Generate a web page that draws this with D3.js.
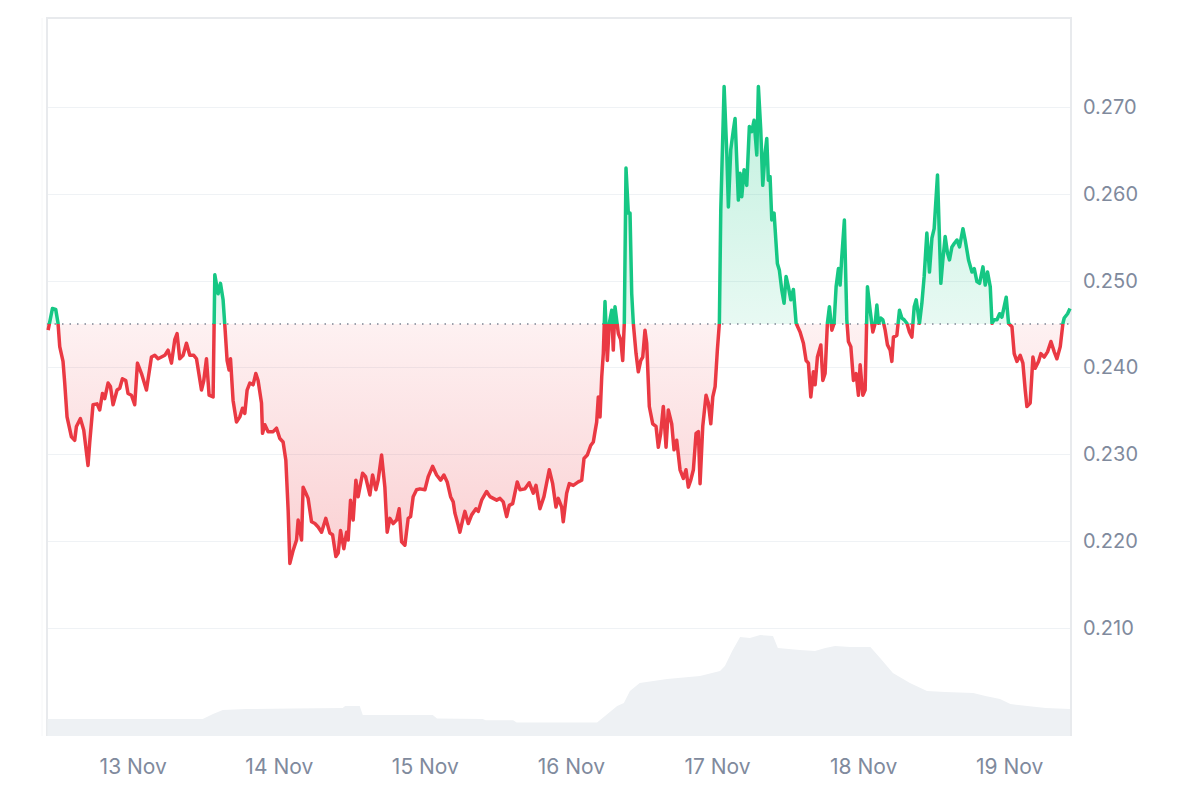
<!DOCTYPE html>
<html>
<head>
<meta charset="utf-8">
<script src="https://cdn.jsdelivr.net/npm/d3@7/dist/d3.min.js"></script>
<style>
    body { margin: 0; background: #fff; }
    .chart { width: 1200px; height: 800px; }
    .chart text { font-family: Inter, "Liberation Sans", Arial, sans-serif; fill: #808a9d; }
</style>
</head>
<body>
<div class="chart"></div>
<script>
// 7 days, hours counted from 12 Nov 10:00 UTC
const startTime = Date.UTC(2024, 10, 12, 10, 0)
const basePrice = 0.245

const hours = [
    0.1, 0.81, 1.35, 1.73, 2.01, 2.55, 2.83, 3.21, 3.93, 4.47,
    4.75, 5.41, 5.95, 6.66, 6.94, 7.48, 8.14, 8.58, 9.03, 9.40,
    9.95, 10.34, 10.77, 11.43, 11.87, 12.31, 12.86, 13.23, 13.79, 14.33,
    14.78, 15.44, 16.26, 17.08, 17.62, 18.17, 18.72, 19.27, 19.81, 20.37,
    20.91, 21.29, 21.73, 22.28, 22.83, 23.38, 24.03, 24.48, 25.30, 25.68,
    26.12, 26.55, 27.21, 27.49, 28.03, 28.42, 28.85, 29.13, 29.51, 29.84,
    30.07, 30.49, 31.05, 31.60, 32.04, 32.42, 32.80, 33.24, 33.78, 34.23,
    34.60, 35.16, 35.33, 35.71, 36.25, 37.07, 37.63, 38.17, 38.71, 39.16,
    39.54, 39.82, 40.36, 40.92, 41.18, 41.74, 42.00, 42.45, 42.82, 43.38,
    43.93, 44.47, 45.03, 45.73, 46.39, 46.84, 47.38, 47.76, 48.15, 48.69,
    49.14, 49.40, 49.79, 50.22, 50.67, 51.04, 51.77, 52.26, 52.97, 53.41,
    53.95, 54.33, 54.89, 55.43, 55.81, 56.26, 56.80, 57.36, 57.78, 58.18,
    58.72, 59.26, 59.66, 60.08, 60.64, 61.19, 62.01, 62.55, 63.27, 63.93,
    64.59, 65.13, 65.67, 66.23, 66.66, 66.94, 67.48, 67.76, 68.21, 68.58,
    69.13, 69.69, 70.39, 70.77, 71.33, 72.15, 72.70, 73.24, 73.80, 74.34,
    74.88, 75.44, 75.87, 76.43, 77.18, 77.63, 78.45, 79.15, 79.81, 80.26,
    80.91, 81.57, 82.44, 83.00, 83.54, 83.92, 84.48, 84.74, 85.30, 85.73,
    86.39, 87.21, 87.77, 88.15, 88.69, 89.25, 89.68, 89.96, 90.23, 90.50,
    90.78, 91.06, 91.32, 91.60, 91.98, 92.31, 92.70, 92.96, 93.24, 93.79,
    94.18, 94.51, 94.77, 95.05, 95.43, 95.71, 95.99, 96.25, 96.70, 97.07,
    97.47, 97.80, 98.17, 98.45, 98.88, 99.44, 99.98, 100.36, 100.75, 101.18,
    101.63, 102.00, 102.56, 102.94, 103.38, 103.93, 104.47, 104.91, 105.29, 105.69,
    106.12, 106.56, 106.94, 107.22, 107.66, 108.20, 108.58, 108.98, 109.31, 109.69,
    110.06, 110.39, 110.62, 111.17, 111.61, 111.87, 112.26, 112.69, 112.97, 113.51,
    113.79, 114.07, 114.45, 114.89, 115.32, 115.71, 116.09, 116.54, 116.80, 117.19,
    117.52, 117.90, 118.18, 118.44, 118.72, 119.00, 119.38, 119.92, 120.25, 120.65,
    121.02, 121.35, 121.73, 122.13, 122.55, 123.00, 123.65, 124.20, 124.64, 125.02,
    125.41, 125.84, 126.12, 126.50, 127.06, 127.39, 127.76, 128.14, 128.47, 128.87,
    129.24, 129.57, 129.95, 130.23, 130.51, 130.93, 131.33, 131.59, 131.99, 132.42,
    132.86, 133.24, 133.52, 133.96, 134.34, 134.72, 135.16, 135.61, 135.99, 136.27,
    136.53, 136.92, 137.25, 137.63, 138.01, 138.45, 138.73, 138.99, 139.55, 139.98,
    140.37, 140.75, 141.20, 141.62, 142.02, 142.40, 142.73, 143.27, 143.66, 144.04,
    144.48, 144.91, 145.31, 145.68, 146.23, 146.78, 147.11, 147.49, 147.87, 148.20,
    148.60, 148.98, 149.42, 149.85, 150.41, 150.78, 151.33, 151.89, 152.27, 152.71,
    153.14, 153.70, 154.07, 154.45, 154.90, 155.18, 155.56, 156.00, 156.43, 156.81,
    157.52, 157.90, 158.46, 158.83, 159.28, 159.82, 160.26, 160.64, 160.92, 161.46,
    161.91, 162.28, 162.83, 163.22, 163.76, 164.31, 164.87, 165.41, 165.85, 166.40,
    166.84, 167.05, 167.60, 168.00
]

const prices = [
    0.2443, 0.2468, 0.2467, 0.2451, 0.2424, 0.2407, 0.2382, 0.2343, 0.2320, 0.2316,
    0.2332, 0.2341, 0.2328, 0.2287, 0.2314, 0.2357, 0.2358, 0.2351, 0.2370, 0.2364,
    0.2382, 0.2378, 0.2357, 0.2374, 0.2376, 0.2387, 0.2385, 0.2370, 0.2368, 0.2357,
    0.2405, 0.2393, 0.2374, 0.2412, 0.2414, 0.2410, 0.2412, 0.2414, 0.2420, 0.2405,
    0.2432, 0.2439, 0.2410, 0.2414, 0.2428, 0.2414, 0.2414, 0.2410, 0.2374, 0.2385,
    0.2410, 0.2368, 0.2366, 0.2507, 0.2485, 0.2497, 0.2478, 0.2449, 0.2408, 0.2397,
    0.2410, 0.2362, 0.2337, 0.2343, 0.2353, 0.2347, 0.2374, 0.2382, 0.2380, 0.2393,
    0.2385, 0.2359, 0.2324, 0.2334, 0.2326, 0.2326, 0.2330, 0.2318, 0.2314, 0.2293,
    0.2235, 0.2174, 0.2189, 0.2201, 0.2224, 0.2201, 0.2262, 0.2255, 0.2249, 0.2222,
    0.2220, 0.2216, 0.2210, 0.2226, 0.2209, 0.2207, 0.2182, 0.2186, 0.2212, 0.2191,
    0.2210, 0.2201, 0.2247, 0.2224, 0.2270, 0.2251, 0.2278, 0.2274, 0.2253, 0.2276,
    0.2259, 0.2270, 0.2299, 0.2262, 0.2210, 0.2226, 0.2220, 0.2224, 0.2237, 0.2199,
    0.2195, 0.2226, 0.2228, 0.2251, 0.2259, 0.2260, 0.2259, 0.2274, 0.2286, 0.2276,
    0.2270, 0.2276, 0.2268, 0.2251, 0.2245, 0.2232, 0.2218, 0.2210, 0.2224, 0.2234,
    0.2220, 0.2230, 0.2237, 0.2234, 0.2247, 0.2257, 0.2251, 0.2249, 0.2247, 0.2249,
    0.2245, 0.2228, 0.2241, 0.2243, 0.2268, 0.2259, 0.2260, 0.2267, 0.2255, 0.2264,
    0.2237, 0.2251, 0.2282, 0.2266, 0.2239, 0.2249, 0.2239, 0.2222, 0.2255, 0.2266,
    0.2264, 0.2268, 0.2270, 0.2295, 0.2299, 0.2310, 0.2314, 0.2326, 0.2337, 0.2366,
    0.2343, 0.2389, 0.2416, 0.2476, 0.2408, 0.2451, 0.2466, 0.2420, 0.2470, 0.2439,
    0.2432, 0.2408, 0.2451, 0.2630, 0.2578, 0.2578, 0.2485, 0.2451, 0.2416, 0.2395,
    0.2408, 0.2412, 0.2443, 0.2428, 0.2355, 0.2335, 0.2332, 0.2308, 0.2324, 0.2355,
    0.2308, 0.2351, 0.2335, 0.2305, 0.2316, 0.2282, 0.2272, 0.2282, 0.2262, 0.2270,
    0.2282, 0.2324, 0.2326, 0.2266, 0.2332, 0.2368, 0.2359, 0.2335, 0.2366, 0.2378,
    0.2420, 0.2451, 0.2581, 0.2724, 0.2647, 0.2585, 0.2651, 0.2674, 0.2687, 0.2593,
    0.2624, 0.2597, 0.2628, 0.2610, 0.2678, 0.2672, 0.2685, 0.2645, 0.2724, 0.2674,
    0.2610, 0.2647, 0.2664, 0.2616, 0.2620, 0.2570, 0.2578, 0.2520, 0.2512, 0.2489,
    0.2474, 0.2505, 0.2493, 0.2478, 0.2490, 0.2451, 0.2441, 0.2428, 0.2408, 0.2405,
    0.2366, 0.2395, 0.2380, 0.2412, 0.2426, 0.2385, 0.2393, 0.2451, 0.2470, 0.2443,
    0.2451, 0.2493, 0.2514, 0.2495, 0.2528, 0.2570, 0.2455, 0.2430, 0.2424, 0.2385,
    0.2393, 0.2368, 0.2403, 0.2368, 0.2374, 0.2493, 0.2466, 0.2441, 0.2451, 0.2472,
    0.2451, 0.2457, 0.2455, 0.2443, 0.2426, 0.2420, 0.2407, 0.2435, 0.2437, 0.2466,
    0.2457, 0.2455, 0.2451, 0.2441, 0.2435, 0.2470, 0.2478, 0.2451, 0.2474, 0.2505,
    0.2555, 0.2510, 0.2549, 0.2560, 0.2622, 0.2497, 0.2524, 0.2551, 0.2532, 0.2524,
    0.2539, 0.2543, 0.2547, 0.2539, 0.2560, 0.2547, 0.2524, 0.2510, 0.2514, 0.2499,
    0.2497, 0.2516, 0.2495, 0.2510, 0.2493, 0.2451, 0.2455, 0.2455, 0.2462, 0.2458,
    0.2481, 0.2451, 0.2447, 0.2416, 0.2407, 0.2414, 0.2405, 0.2374, 0.2355, 0.2359,
    0.2412, 0.2399, 0.2407, 0.2416, 0.2412, 0.2418, 0.2430, 0.2418, 0.2410, 0.2424,
    0.2451, 0.2457, 0.2462, 0.2468
]

// volume (millions), rough step outline of the grey band
const volHours = [
    0, 25.5, 27.2, 28.8, 32.7, 40.3, 48.5, 48.9, 51.3, 51.8,
    63.3, 64.0, 71.5, 72.0, 76.5, 77.1, 90.3, 91.6, 93.6, 94.7,
    95.7, 97.3, 101.8, 107.2, 110.5, 111.3, 112.5, 113.8, 115.4, 117.1,
    119.2, 120.0, 123.6, 126.1, 127.8, 129.4, 131.9, 135.2, 136.8, 138.9,
    141.7, 144.5, 147.5, 152.1, 154.1, 156.5, 158.2, 161.0, 164.0, 168.0
]
const volumes = [
    17, 17, 22, 26, 27, 27.5, 28, 30, 30, 21,
    21, 17.5, 17, 15.7, 15.7, 13.5, 13.5, 20, 30, 33,
    45, 53, 57, 60, 65, 70, 85, 99, 98, 101,
    100, 88, 86, 85, 88, 90, 89, 89, 78, 63,
    53, 45, 44, 43, 40, 37, 32, 30, 28, 27
]

const yTicks = [0.21, 0.22, 0.23, 0.24, 0.25, 0.26, 0.27]
const dayTicks = ["2024-11-13", "2024-11-14", "2024-11-15", "2024-11-16", "2024-11-17", "2024-11-18", "2024-11-19"]
const dayLabels = ["13 Nov", "14 Nov", "15 Nov", "16 Nov", "17 Nov", "18 Nov", "19 Nov"]

const upColor = "#16c784"
const downColor = "#ea3943"

class PriceChart {
    constructor(_element) {
        this.element = _element
        this.width = 1200
        this.height = 800
        this.left = 47
        this.right = 1071
        this.top = 18
        this.bottom = 736

        this.data = hours.map((_h, _i) => ({ t: new Date(startTime + _h * 3600e3), v: prices[_i] }))
        this.vol = volHours.map((_h, _i) => ({ t: new Date(startTime + _h * 3600e3), v: volumes[_i] }))

        this.x = d3.scaleUtc()
            .domain([new Date(startTime), new Date(startTime + 168 * 3600e3)])
            .range([this.left + 0.5, this.right - 1])
        this.y = d3.scaleLinear()
            .domain([0.1975, 0.2803])
            .range([this.bottom, this.top])
        this.yVol = d3.scaleLinear()
            .domain([0, 100])
            .range([this.bottom, this.bottom - 100])

        this.svg = d3.select(this.element).append("svg")
            .attr("width", this.width)
            .attr("height", this.height)

        this.defs = this.svg.append("defs")
        this.drawFrame()
        this.drawVolume()
        this.drawPrice()
        this.drawAxes()
    }

    drawFrame() {
        this.svg.append("g")
            .selectAll("line")
            .data(yTicks)
            .enter()
            .append("line")
            .attr("x1", this.left)
            .attr("x2", this.right)
            .attr("y1", d => Math.round(this.y(d)) + 0.5)
            .attr("y2", d => Math.round(this.y(d)) + 0.5)
            .attr("stroke", "#eff2f5")

        // light border round the plot
        this.svg.append("path")
            .attr("d", `M${this.left},${this.bottom}V${this.top}H${this.right}V${this.bottom}`)
            .attr("fill", "none")
            .attr("stroke", "#e8eaed")
            .attr("stroke-width", 2)
        this.svg.append("line")
            .attr("x1", this.left - 5).attr("x2", this.left - 5)
            .attr("y1", this.top).attr("y2", this.bottom)
            .attr("stroke", "#f6f7f8")
    }

    drawVolume() {
        const area = d3.area()
            .x(d => this.x(d.t))
            .y0(this.bottom)
            .y1(d => this.yVol(d.v))
        this.svg.append("path")
            .datum(this.vol)
            .attr("d", area)
            .attr("fill", "#eef1f4")
    }

    drawPrice() {
        const baseY = this.y(basePrice)

        this.defs.append("clipPath").attr("id", "clip-up")
            .append("rect")
            .attr("x", 0).attr("y", 0)
            .attr("width", this.width).attr("height", baseY)
        this.defs.append("clipPath").attr("id", "clip-down")
            .append("rect")
            .attr("x", 0).attr("y", baseY)
            .attr("width", this.width).attr("height", this.height - baseY)

        const gUp = this.defs.append("linearGradient").attr("id", "grad-up")
            .attr("gradientUnits", "userSpaceOnUse")
            .attr("x1", 0).attr("x2", 0)
            .attr("y1", this.y(d3.max(prices))).attr("y2", baseY)
        gUp.append("stop").attr("offset", 0).attr("stop-color", upColor).attr("stop-opacity", 0.27)
        gUp.append("stop").attr("offset", 1).attr("stop-color", upColor).attr("stop-opacity", 0.1)

        const gDown = this.defs.append("linearGradient").attr("id", "grad-down")
            .attr("gradientUnits", "userSpaceOnUse")
            .attr("x1", 0).attr("x2", 0)
            .attr("y1", baseY).attr("y2", this.y(d3.min(prices)))
        gDown.append("stop").attr("offset", 0).attr("stop-color", downColor).attr("stop-opacity", 0.07)
        gDown.append("stop").attr("offset", 1).attr("stop-color", downColor).attr("stop-opacity", 0.24)

        const area = d3.area()
            .x(d => this.x(d.t))
            .y0(baseY)
            .y1(d => this.y(d.v))
        const line = d3.line()
            .x(d => this.x(d.t))
            .y(d => this.y(d.v))

        this.svg.append("path").datum(this.data)
            .attr("d", area).attr("fill", "url(#grad-up)").attr("clip-path", "url(#clip-up)")
        this.svg.append("path").datum(this.data)
            .attr("d", area).attr("fill", "url(#grad-down)").attr("clip-path", "url(#clip-down)")

        // dotted reference line at the opening price
        this.svg.append("line")
            .attr("x1", this.left).attr("x2", this.right)
            .attr("y1", baseY).attr("y2", baseY)
            .attr("stroke", "#7d8594")
            .attr("stroke-width", 1.5)
            .attr("stroke-dasharray", "1.5,6")

        this.svg.append("path").datum(this.data)
            .attr("d", line).attr("fill", "none")
            .attr("stroke", upColor).attr("stroke-width", 3.5)
            .attr("stroke-linejoin", "round")
            .attr("clip-path", "url(#clip-up)")
        this.svg.append("path").datum(this.data)
            .attr("d", line).attr("fill", "none")
            .attr("stroke", downColor).attr("stroke-width", 3.5)
            .attr("stroke-linejoin", "round")
            .attr("clip-path", "url(#clip-down)")
    }

    drawAxes() {
        const yAxis = d3.axisRight(this.y)
            .tickValues(yTicks)
            .tickFormat(d3.format(".3f"))
            .tickSize(0)
            .tickPadding(12)
        this.svg.append("g")
            .attr("transform", `translate(${this.right},0)`)
            .call(yAxis)
            .call(g => g.select(".domain").remove())
            .selectAll("text")
            .attr("font-size", 20)

        const dates = dayTicks.map(d => new Date(d + "T00:00:00Z"))
        const xAxis = d3.axisBottom(this.x)
            .tickValues(dates)
            .tickFormat((d, i) => dayLabels[i])
            .tickSize(0)
            .tickPadding(23)
        this.svg.append("g")
            .attr("transform", `translate(0,${this.bottom})`)
            .call(xAxis)
            .call(g => g.select(".domain").remove())
            .selectAll("text")
            .attr("font-size", 21)
    }
}

const chart = new PriceChart(document.querySelector(".chart"))
</script>
</body>
</html>
